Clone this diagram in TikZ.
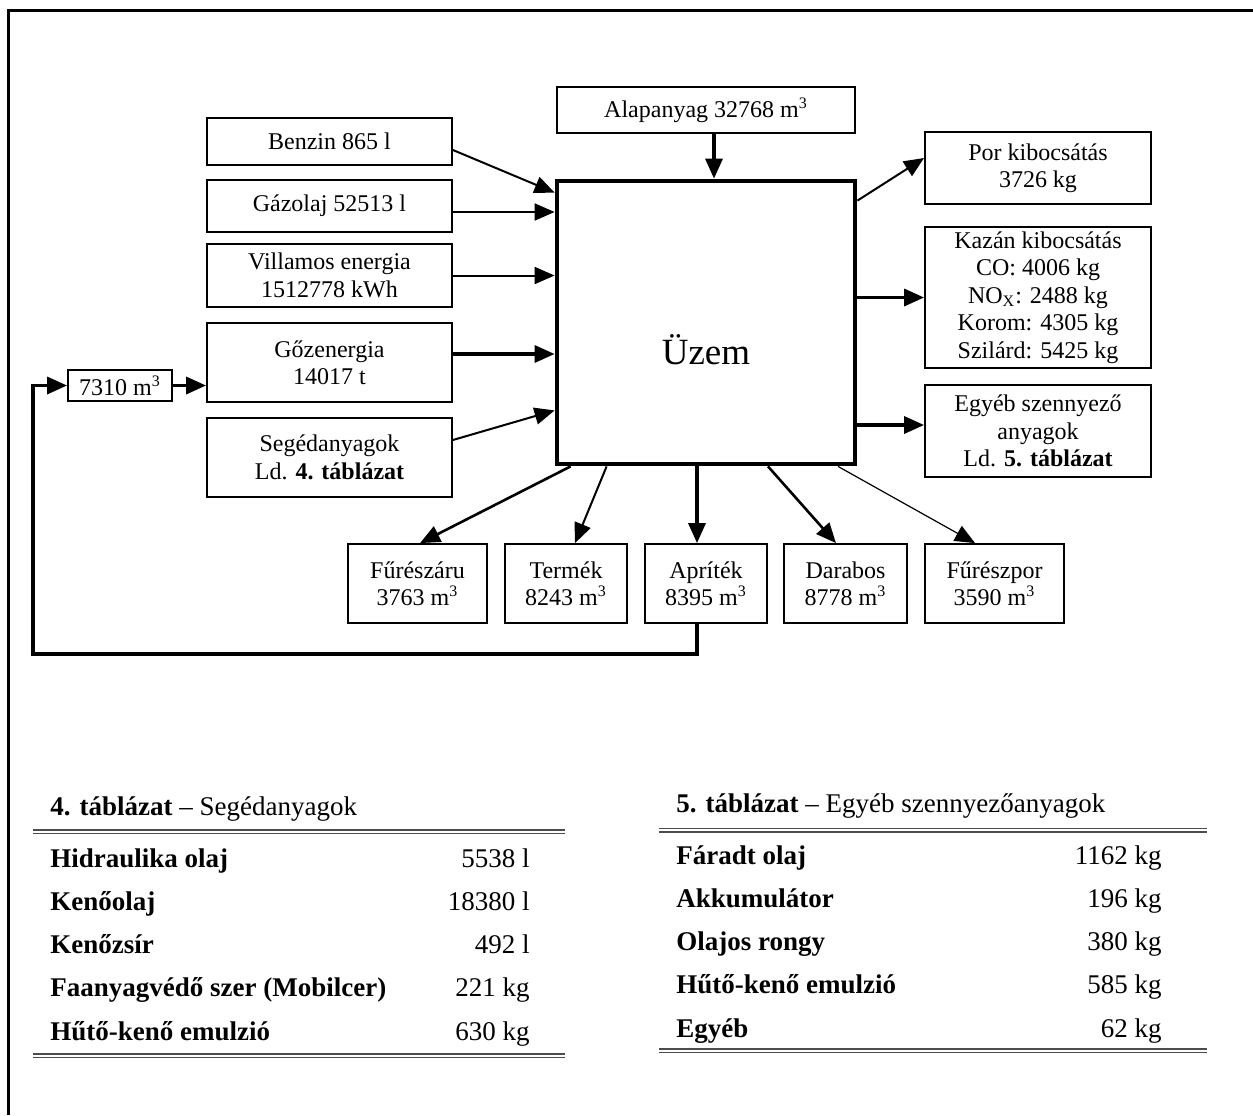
\documentclass[tikz,border=0pt]{standalone}
\usepackage{fontspec}
\setmainfont{Liberation Serif}
\usetikzlibrary{arrows.meta,positioning}

\begin{document}
\begin{tikzpicture}[
  x=0.5pt, y=-0.5pt,
  box/.style={
    draw,
    line width=0.9pt,
    align=center,
    inner sep=2pt,
    font=\fontsize{12}{13.7}\selectfont
  },
  inbox/.style={box, minimum width=122.5pt},
  outbox/.style={box, minimum width=113pt},
  prodbox/.style={box, minimum height=39.5pt},
  plant/.style={draw, line width=2.4pt, minimum width=149pt, minimum height=141.5pt},
  flow/.style={-{Triangle[length=10pt,width=8.5pt]}, line width=1pt},
  midflow/.style={flow, line width=1.3pt},
  heavyflow/.style={flow, line width=1.7pt},
  lightflow/.style={flow, line width=0.6pt},
  tabrule/.style={line width=0.6pt, black!70},
  tabhead/.style={anchor=base west, inner sep=0pt, font=\fontsize{13.5}{16}\selectfont},
  tabname/.style={anchor=base west, inner sep=0pt, font=\fontsize{13.5}{16}\selectfont\bfseries},
  tabval/.style={anchor=base east, inner sep=0pt, font=\fontsize{13.5}{16}\selectfont}
]
\useasboundingbox (0,0) rectangle (1253,1115);
\draw[line width=1.5pt] (8,1115) -- (8,10) -- (1253,10);

% the plant and its inputs
\node[plant, label={[font=\fontsize{18.5}{22}\selectfont, yshift=-13.5pt]center:Üzem}] (uzem) at (706,322.5) {};
\node[box, minimum width=149pt, minimum height=23pt] (alapanyag) at (706,110) {Alapanyag 32768 m\textsuperscript{3}};

\node[inbox, minimum height=23.5pt] (benzin) at (329.5,141.5) {Benzin 865 l};
\node[inbox, minimum height=26pt, below=6.6pt of benzin] (gazolaj) {Gázolaj 52513 l};
\node[inbox, minimum height=31.5pt, below=5.1pt of gazolaj] (villamos) {Villamos energia\\1512778 kWh};
\node[inbox, minimum height=39.5pt, below=7.1pt of villamos] (gozenergia) {Gőzenergia\\14017 t};
\node[inbox, minimum height=39.5pt, below=7.1pt of gozenergia] (segedanyag) {Segédanyagok\\Ld. \textbf{4. táblázat}};
\node[box, minimum width=52pt, minimum height=15.5pt] (visszafolyas) at (120,385.5) {7310 m\textsuperscript{3}};

% emissions
\node[outbox, minimum height=36pt] (por) at (1038,168) {Por kibocsátás\\3726 kg};
\node[outbox, minimum height=70.5pt, below=10.6pt of por] (kazan) {Kazán kibocsátás\\CO: 4006 kg\\NO\textsubscript{X}: 2488 kg\\Korom: 4305 kg\\Szilárd: 5425 kg};
\node[outbox, minimum height=46pt, below=7.6pt of kazan] (egyeb) {Egyéb szennyező\\anyagok\\Ld. \textbf{5. táblázat}};

% products
\node[prodbox, minimum width=69.5pt] (fureszaru) at (417.5,583.5) {Fűrészáru\\3763 m\textsuperscript{3}};
\node[prodbox, minimum width=61pt, right=8.1pt of fureszaru] (termek) {Termék\\8243 m\textsuperscript{3}};
\node[prodbox, minimum width=61pt, right=8.1pt of termek] (apritek) {Apríték\\8395 m\textsuperscript{3}};
\node[prodbox, minimum width=61.5pt, right=7.6pt of apritek] (darabos) {Darabos\\8778 m\textsuperscript{3}};
\node[prodbox, minimum width=69.5pt, right=8.1pt of darabos] (fureszpor) {Fűrészpor\\3590 m\textsuperscript{3}};

% inputs
\draw[heavyflow] ([xshift=4pt]alapanyag.south) coordinate (alapout) -- (alapout |- uzem.north);
\draw[flow] ([yshift=-4.25pt]benzin.east) -- ([yshift=-7pt]uzem.north west);
\draw[flow] ([yshift=-3pt]gazolaj.east) coordinate (gazout) -- (gazout -| uzem.west);
\draw[flow] (villamos.east) -- (villamos.east -| uzem.west);
\draw[heavyflow] ([yshift=4.25pt]gozenergia.east) coordinate (gozout) -- (gozout -| uzem.west);
\draw[flow] ([yshift=8.75pt]segedanyag.east) -- ([yshift=28pt]uzem.south west);
\draw[heavyflow] (visszafolyas.east) -- (visszafolyas.east -| gozenergia.west);

% outputs
\draw[flow] ([yshift=-11pt]uzem.north east) -- ([yshift=5pt]por.west);
\draw[heavyflow] (uzem.east |- kazan.west) -- (kazan.west);
\coordinate (egyin) at ([yshift=3pt]egyeb.west);
\draw[heavyflow] (uzem.east |- egyin) -- (egyin);

\draw[midflow] ([xshift=8pt]uzem.south west) -- ([xshift=1.25pt]fureszaru.north);
\draw[flow] ([xshift=26pt]uzem.south west) -- ([xshift=4.5pt]termek.north);
\coordinate (aprcol) at ([xshift=-4.5pt]apritek.north);
\draw[heavyflow] (aprcol |- uzem.south) -- (aprcol);
\draw[midflow] ([xshift=31pt]uzem.south) -- ([xshift=-4.75pt]darabos.north);
\draw[lightflow] ([xshift=66pt]uzem.south) -- ([xshift=-9.75pt]fureszpor.north);

% wood chips fed back to the boiler
\coordinate (visszakanyar) at (33,654);
\draw[heavyflow] ([xshift=-4.5pt]apritek.south) |- (visszakanyar) |- (visszafolyas.west);

% table 4
\node[tabhead] (t4cim) at (50,815) {\textbf{4. táblázat} – Segédanyagok};
\draw[tabrule] (33,830) -- (565,830) (33,833.5) -- (565,833.5);
\foreach \nev/\ertek [count=\i] in {Hidraulika olaj/5538 l, Kenőolaj/18380 l, Kenőzsír/492 l,
    Faanyagvédő szer (Mobilcer)/221 kg, Hűtő-kenő emulzió/630 kg} {
  \node[tabname] (t4n\i) at (50,{867+43.25*(\i-1)}) {\nev};
  \node[tabval] (t4v\i) at (530,{867+43.25*(\i-1)}) {\ertek};
}
\draw[tabrule] (33,1054) -- (565,1054) (33,1057.5) -- (565,1057.5);

% table 5
\node[tabhead] (t5cim) at (676,812) {\textbf{5. táblázat} – Egyéb szennyezőanyagok};
\draw[tabrule] (659,828.5) -- (1207,828.5) (659,832) -- (1207,832);
\foreach \nev/\ertek [count=\i] in {Fáradt olaj/1162 kg, Akkumulátor/196 kg, Olajos rongy/380 kg,
    Hűtő-kenő emulzió/585 kg, Egyéb/62 kg} {
  \node[tabname] (t5n\i) at (676,{864+43.25*(\i-1)}) {\nev};
  \node[tabval] (t5v\i) at (1162,{864+43.25*(\i-1)}) {\ertek};
}
\draw[tabrule] (659,1049) -- (1207,1049) (659,1052.5) -- (1207,1052.5);
\end{tikzpicture}
\end{document}
